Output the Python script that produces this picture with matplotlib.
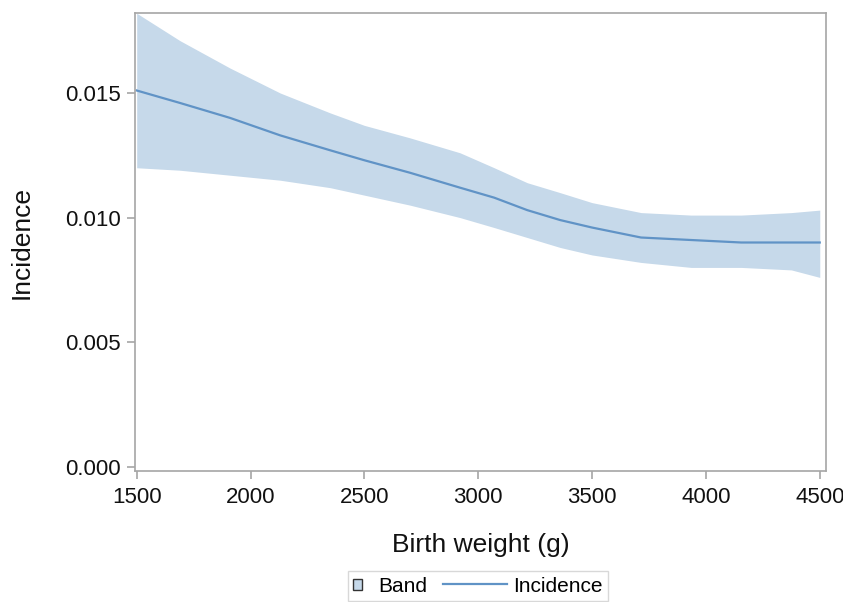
import numpy as np
import matplotlib.pyplot as plt
from matplotlib.patches import Patch
from matplotlib.lines import Line2D
from matplotlib.legend_handler import HandlerBase

plt.rcParams['font.family'] = ['Liberation Sans', 'DejaVu Sans']

# Valores
birth_weight = [1500, 1690, 1910, 2130, 2350, 2500, 2700, 2920, 3070, 3215, 3360, 3500, 3715, 3935, 4155, 4375, 4500]
incidence = [0.0151, 0.0146, 0.0140, 0.0133, 0.0127, 0.0123, 0.0118, 0.0112, 0.0108, 0.0103, 0.0099, 0.0096, 0.0092, 0.0091, 0.0090, 0.0090, 0.0090]
band_upper = [0.0182, 0.0171, 0.0160, 0.0150, 0.0142, 0.0137, 0.0132, 0.0126, 0.0120, 0.0114, 0.0110, 0.0106, 0.0102, 0.0101, 0.0101, 0.0102, 0.0103]
band_lower = [0.0120, 0.0119, 0.0117, 0.0115, 0.0112, 0.0109, 0.0105, 0.0100, 0.0096, 0.0092, 0.0088, 0.0085, 0.0082, 0.0080, 0.0080, 0.0079, 0.0076]

x_ticks = [1500, 2000, 2500, 3000, 3500, 4000, 4500]
y_ticks = [0.000, 0.005, 0.010, 0.015]

band_color = '#c6d9ea'
line_color = '#6093c6'
axis_color = '#a6a6a6'


# Línea de la leyenda más larga que el hueco del marcador
class LongLine(HandlerBase):
    def create_artists(self, legend, orig_handle, xdescent, ydescent, width, height, fontsize, trans):
        y = height / 2 - ydescent
        x0 = -xdescent - 2.2 * fontsize
        x1 = -xdescent + width + 0.45 * fontsize
        ln = Line2D([x0, x1], [y, y], color=orig_handle.get_color(), linewidth=orig_handle.get_linewidth())
        ln.set_transform(trans)
        return [ln]


fig = plt.figure(figsize=(8.43, 6.02), dpi=100)
ax = fig.add_axes([0.160, 0.218, 0.820, 0.760])

ax.fill_between(birth_weight, band_lower, band_upper, color=band_color, linewidth=0)
ax.plot(birth_weight, incidence, color=line_color, linewidth=1.6)

ax.set_xlim(1492, 4528)
ax.set_ylim(-0.00016, 0.0182)
ax.set_xticks(x_ticks)
ax.set_yticks(y_ticks)
ax.set_yticklabels([f'{v:.3f}' for v in y_ticks])

for s in ax.spines.values():
    s.set_color(axis_color)
    s.set_linewidth(1.2)
ax.tick_params(axis='both', colors=axis_color, labelcolor='#111111', labelsize=16,
               length=6, width=1.2, direction='out')
ax.tick_params(axis='x', pad=6)
ax.tick_params(axis='y', pad=4)

ax.set_xlabel('Birth weight (g)', fontsize=19, labelpad=18, color='#111111')
ax.set_ylabel('Incidence', fontsize=19, labelpad=23, color='#111111')

band_handle = Patch(facecolor=band_color, edgecolor='#333333', linewidth=1.0)
line_handle = Line2D([0], [0], color=line_color, linewidth=1.6)
leg = fig.legend([band_handle, line_handle], ['Band', 'Incidence'],
                 loc='lower center', bbox_to_anchor=(0.567, 0.002),
                 ncol=2, fontsize=15, frameon=True, fancybox=False,
                 handlelength=0.45, handleheight=0.45, columnspacing=2.95,
                 handletextpad=0.75, borderpad=0.25, borderaxespad=0.0,
                 handler_map={Line2D: LongLine()})
leg.get_frame().set_edgecolor('#cfcfcf')
leg.get_frame().set_linewidth(1.0)

fig.savefig('out.png', dpi=100)
